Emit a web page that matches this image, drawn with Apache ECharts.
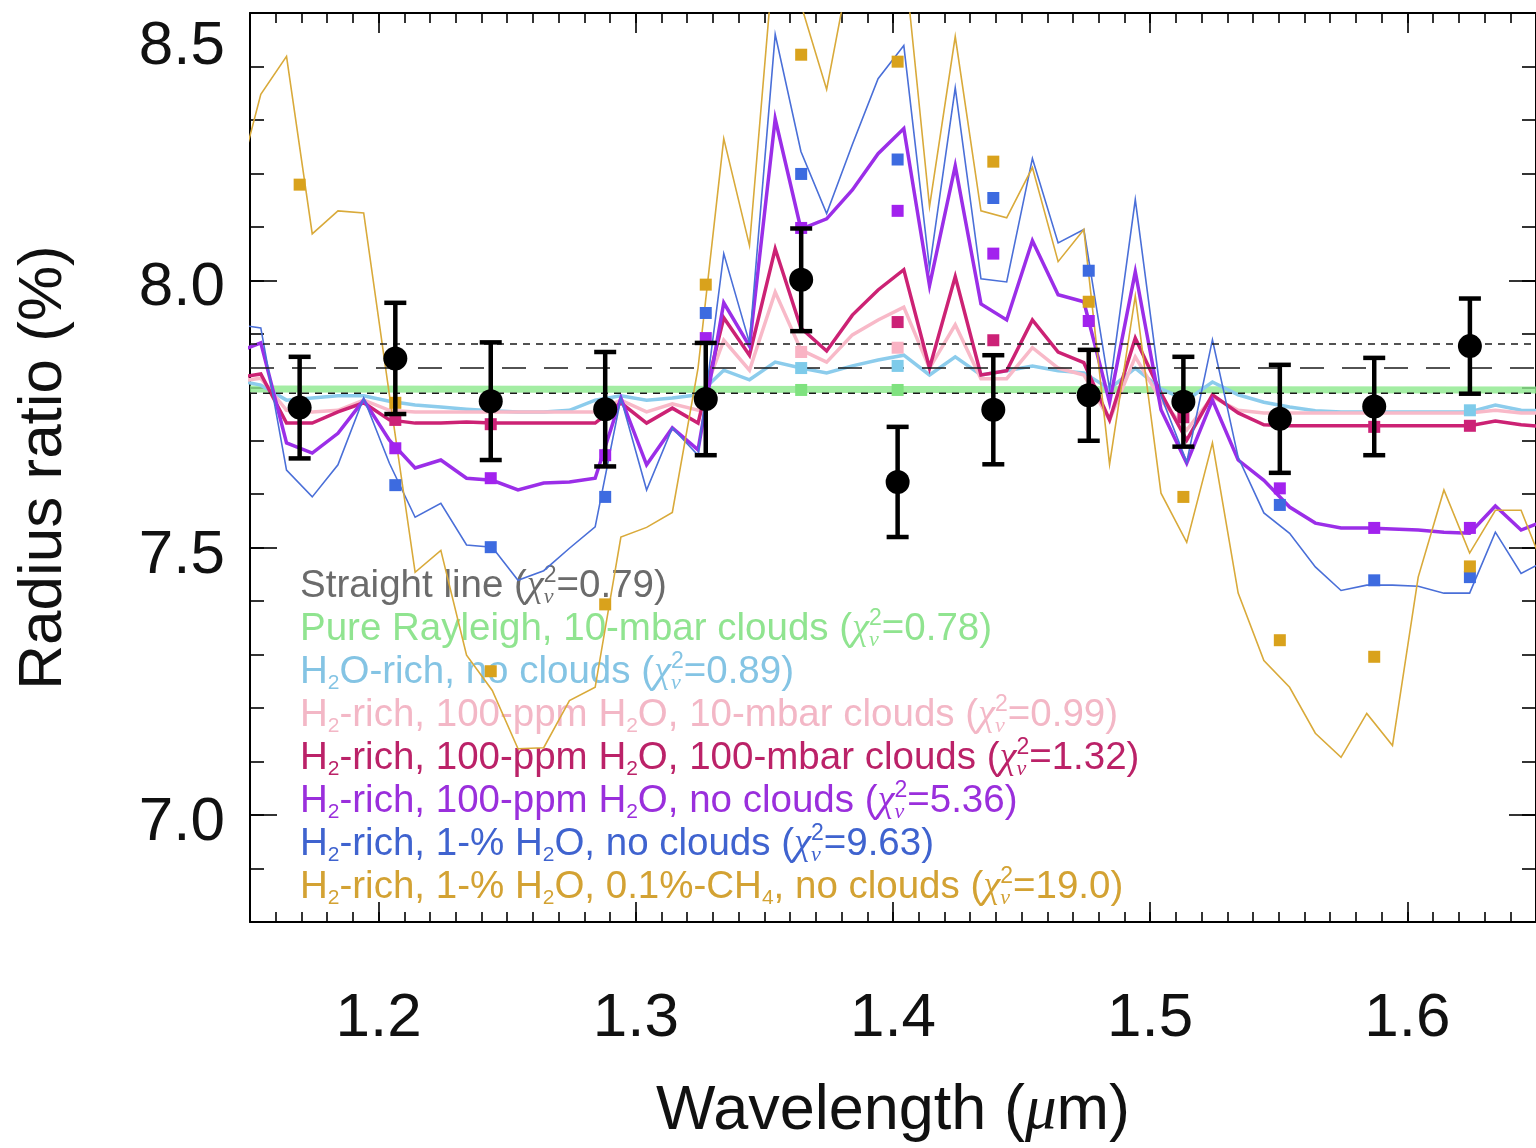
<!DOCTYPE html>
<html>
<head>
<meta charset="utf-8">
<script src="https://cdn.jsdelivr.net/npm/echarts@6/dist/echarts.min.js"></script>
<style>
  html, body { margin: 0; padding: 0; background: #ffffff; }
  #chart { width: 1536px; height: 1148px; }
</style>
</head>
<body>
<div id="chart"></div>
<script>
// ---------------------------------------------------------------------------
// Transmission spectrum: measured radius ratios and model spectra
// ---------------------------------------------------------------------------

// Tick labels
const X_TICKS = [1.2, 1.3, 1.4, 1.5, 1.6];
const Y_TICKS = [7.0, 7.5, 8.0, 8.5];

// Measured spectrum (wavelength in micron, radius ratio in %, 1-sigma error)
const DATA_WL  = [1.1693, 1.2065, 1.2436, 1.2881, 1.3272, 1.3643, 1.4018, 1.4390, 1.4761, 1.5129, 1.5504, 1.5871, 1.6243];
const DATA_R   = [7.762, 7.854, 7.774, 7.759, 7.778, 8.001, 7.623, 7.758, 7.785, 7.773, 7.741, 7.764, 7.877];
const DATA_ERR = [0.095, 0.104, 0.110, 0.107, 0.105, 0.096, 0.103, 0.102, 0.085, 0.084, 0.101, 0.091, 0.089];

// Straight-line fit and its 1-sigma band
const FIT_WL    = [1.15, 1.65];
const FIT_MEAN  = [7.836, 7.836];
const FIT_UPPER = [7.881, 7.881];
const FIT_LOWER = [7.789, 7.789];

// Model wavelength grid (micron)
const MODEL_WL = [1.1442, 1.1542, 1.1642, 1.1742, 1.1842, 1.1942, 1.2042, 1.2142, 1.2242, 1.2342,
                  1.2442, 1.2542, 1.2642, 1.2742, 1.2842, 1.2942, 1.3042, 1.3142, 1.3242, 1.3342,
                  1.3442, 1.3542, 1.3642, 1.3742, 1.3842, 1.3942, 1.4042, 1.4142, 1.4242, 1.4342,
                  1.4442, 1.4542, 1.4642, 1.4742, 1.4842, 1.4942, 1.5042, 1.5142, 1.5242, 1.5342,
                  1.5442, 1.5542, 1.5642, 1.5742, 1.5842, 1.5942, 1.6042, 1.6142, 1.6242, 1.6342,
                  1.6442, 1.6542];

// Pure Rayleigh, 10-mbar clouds (flat)
const RAYLEIGH_WL = [1.15, 1.65];
const RAYLEIGH    = [7.797, 7.795];

// H2O-rich, no clouds
const H2O_RICH = [7.814, 7.804, 7.776, 7.780, 7.784, 7.784, 7.774, 7.767, 7.763, 7.759,
                  7.756, 7.754, 7.754, 7.757, 7.776, 7.784, 7.776, 7.780, 7.786, 7.832,
                  7.814, 7.847, 7.836, 7.827, 7.840, 7.851, 7.860, 7.823, 7.857, 7.823,
                  7.831, 7.840, 7.831, 7.827, 7.797, 7.836, 7.797, 7.776, 7.810, 7.786,
                  7.772, 7.763, 7.756, 7.754, 7.754, 7.754, 7.754, 7.754, 7.754, 7.767,
                  7.757, 7.756];

// H2-rich, 100-ppm H2O, 10-mbar clouds
const H2_100PPM_10MBAR = [7.810, 7.817, 7.757, 7.754, 7.757, 7.776, 7.757, 7.754, 7.754, 7.754,
                          7.754, 7.754, 7.754, 7.754, 7.754, 7.776, 7.754, 7.769, 7.757, 7.888,
                          7.832, 7.978, 7.870, 7.847, 7.898, 7.926, 7.950, 7.836, 7.917, 7.816,
                          7.816, 7.874, 7.836, 7.823, 7.739, 7.857, 7.776, 7.720, 7.782, 7.757,
                          7.752, 7.752, 7.752, 7.752, 7.752, 7.752, 7.752, 7.752, 7.752, 7.757,
                          7.752, 7.752];

// H2-rich, 100-ppm H2O, 100-mbar clouds
const H2_100PPM_100MBAR = [7.817, 7.825, 7.733, 7.733, 7.754, 7.771, 7.739, 7.733, 7.733, 7.735,
                           7.733, 7.733, 7.733, 7.733, 7.733, 7.771, 7.733, 7.761, 7.733, 7.930,
                           7.860, 8.059, 7.911, 7.868, 7.935, 7.982, 8.020, 7.836, 8.007, 7.823,
                           7.831, 7.926, 7.866, 7.846, 7.739, 7.892, 7.789, 7.701, 7.786, 7.752,
                           7.730, 7.728, 7.728, 7.728, 7.728, 7.728, 7.728, 7.728, 7.728, 7.737,
                           7.730, 7.726];

// H2-rich, 100-ppm H2O, no clouds
const H2_100PPM_CLEAR = [7.864, 7.883, 7.696, 7.677, 7.714, 7.776, 7.701, 7.649, 7.664, 7.630,
                         7.626, 7.608, 7.621, 7.623, 7.630, 7.780, 7.655, 7.724, 7.683, 7.958,
                         7.877, 8.302, 8.096, 8.115, 8.169, 8.237, 8.284, 7.990, 8.214, 7.956,
                         7.926, 8.074, 7.973, 7.960, 7.772, 8.016, 7.758, 7.658, 7.776, 7.664,
                         7.626, 7.576, 7.546, 7.537, 7.537, 7.535, 7.533, 7.529, 7.527, 7.578,
                         7.533, 7.552];

// H2-rich, 1-% H2O, no clouds
const H2_1PCT_CLEAR = [7.918, 7.911, 7.645, 7.595, 7.655, 7.780, 7.658, 7.557, 7.583, 7.505,
                       7.501, 7.439, 7.457, 7.499, 7.539, 7.780, 7.608, 7.724, 7.673, 8.050,
                       7.883, 8.460, 8.241, 8.125, 8.254, 8.377, 8.439, 8.023, 8.360, 8.003,
                       7.997, 8.228, 8.070, 8.095, 7.797, 8.151, 7.784, 7.660, 7.889, 7.669,
                       7.565, 7.527, 7.464, 7.420, 7.430, 7.430, 7.428, 7.415, 7.415, 7.529,
                       7.452, 7.477];

// H2-rich, 1-% H2O, 0.1%-CH4, no clouds
const H2_1PCT_CH4 = [8.163, 8.348, 8.419, 8.087, 8.130, 8.126, 7.786, 7.454, 7.495, 7.299,
                     7.233, 7.124, 7.126, 7.214, 7.239, 7.520, 7.538, 7.566, 7.836, 8.265,
                     8.065, 8.636, 8.516, 8.357, 8.610, 8.675, 8.613, 8.138, 8.456, 8.130,
                     8.117, 8.211, 8.035, 8.095, 7.656, 7.971, 7.602, 7.510, 7.696, 7.415,
                     7.289, 7.239, 7.153, 7.108, 7.190, 7.130, 7.445, 7.608, 7.490, 7.570,
                     7.570, 7.449];

// Models binned to the measured channels (null: hidden behind a data point)
const BIN_RAYLEIGH  = [null, null, null, null, null, 7.795, 7.795, null, null, null, null, null, null];
const BIN_H2O_RICH  = [null, null, null, null, null, 7.836, 7.840, null, null, null, null, null, 7.757];
const BIN_10MBAR    = [null, null, null, null, null, 7.866, 7.874, null, null, null, null, null, null];
const BIN_100MBAR   = [null, 7.739, 7.731, null, null, null, 7.922, 7.888, null, 7.744, null, 7.726, 7.728];
const BIN_100PPM    = [null, 7.686, 7.630, 7.673, 7.892, 8.098, 8.130, 8.050, 7.924, null, 7.611, 7.537, 7.537];
const BIN_1PCT      = [null, 7.617, 7.501, 7.595, 7.939, 8.199, 8.226, 8.154, 8.018, null, 7.580, 7.439, 7.445];
const BIN_1PCT_CH4  = [8.179, 7.771, 7.269, 7.394, 7.992, 8.422, 8.409, 8.222, 7.960, 7.595, 7.327, 7.296, 7.465];

// ---------------------------------------------------------------------------
const FONT = "'Liberation Sans', Arial, Helvetica, sans-serif";
const SERIF = "'Liberation Serif', 'DejaVu Serif', serif";
const X_MIN = 1.15, X_MAX = 1.65;
const Y_MIN = 6.8, Y_MAX = 8.5;

const zip = (xs, ys) => xs.map((x, i) => [x, ys[i]]);
const binned = ys => DATA_WL.map((x, i) => [x, ys[i]]).filter(p => p[1] != null);

const AXIS_LINE = { show: true, lineStyle: { color: '#000', width: 2 } };
const TICK_STYLE = { color: '#000', width: 1.6 };

function minorXAxis(pos) {
  return {
    type: 'value', position: pos, min: X_MIN, max: X_MAX, interval: 0.01,
    axisLine: AXIS_LINE,
    axisTick: { show: true, inside: true, length: 10, lineStyle: TICK_STYLE },
    axisLabel: { show: false }, splitLine: { show: false }
  };
}
function majorXAxis(pos, withLabels) {
  const ax = {
    type: 'value', position: pos, min: X_MIN, max: X_MAX,
    axisLine: { show: false },
    axisTick: { show: true, inside: true, length: 20, customValues: X_TICKS, lineStyle: TICK_STYLE },
    axisLabel: { show: false }, splitLine: { show: false }
  };
  if (withLabels) {
    ax.axisLabel = {
      show: true, customValues: X_TICKS, margin: 66,
      formatter: v => v.toFixed(1),
      fontSize: 62, fontFamily: FONT, color: '#111'
    };
    ax.name = '{n|Wavelength (}{mu|\u03bc}{n|m)}';
    ax.nameLocation = 'middle';
    ax.nameGap = 158;
    ax.nameTextStyle = {
      fontSize: 63, fontFamily: FONT, color: '#111',
      rich: {
        n: { fontSize: 63, fontFamily: FONT, color: '#111' },
        mu: { fontSize: 63, fontFamily: SERIF, fontStyle: 'italic', color: '#111' }
      }
    };
  }
  return ax;
}
function minorYAxis(pos) {
  return {
    type: 'value', position: pos, min: Y_MIN, max: Y_MAX, interval: 0.1,
    axisLine: AXIS_LINE,
    axisTick: { show: true, inside: true, length: 14, lineStyle: TICK_STYLE },
    axisLabel: { show: false }, splitLine: { show: false }
  };
}
function majorYAxis(pos, withLabels) {
  const ax = {
    type: 'value', position: pos, min: Y_MIN, max: Y_MAX,
    axisLine: { show: false },
    axisTick: { show: true, inside: true, length: 27, customValues: Y_TICKS, lineStyle: TICK_STYLE },
    axisLabel: { show: false }, splitLine: { show: false }
  };
  if (withLabels) {
    const lab = { fontSize: 62, fontFamily: FONT, color: '#111' };
    ax.axisLabel = {
      show: true, customValues: Y_TICKS, margin: 25,
      formatter: v => (Math.abs(v - 8.5) < 1e-6 ? '{hi|' : '{lo|') + v.toFixed(1) + '}',
      rich: {
        lo: Object.assign({ padding: [16, 0, 0, 0] }, lab),
        hi: Object.assign({ padding: [68, 0, 0, 0] }, lab)
      }
    };
    ax.name = 'Radius ratio (%)';
    ax.nameLocation = 'middle';
    ax.nameRotate = 90;
    ax.nameGap = 175;
    ax.nameTextStyle = { fontSize: 62, fontFamily: FONT, color: '#111' };
  }
  return ax;
}

function modelLine(name, ys, color, width) {
  return {
    name, type: 'line', data: zip(MODEL_WL, ys), symbol: 'none', z: 3,
    lineStyle: { color, width, join: 'miter' }, silent: true
  };
}
function fitLine(ys, dash) {
  return {
    type: 'line', data: zip(FIT_WL, ys), symbol: 'none', z: 4, silent: true,
    lineStyle: { color: '#1a1a1a', width: 1.6, type: dash }
  };
}
function binSquares(ys, color) {
  return {
    type: 'scatter', data: binned(ys), symbol: 'rect', symbolSize: 12, z: 5,
    itemStyle: { color, opacity: 1 }, silent: true
  };
}

// Legend text with sub/superscripts
const t = s => '{t|' + s + '}';
const sb = s => '{sb|' + s + '}';
const chi = v => '{t|(}{chi|\u03c7}{nu|\u03bd}{sq|2}{t|=' + v + ')}';
const H2 = t('H') + sb('2');
const LEGEND_ROWS = [
  { color: '#6b6b6b', text: t('Straight line ') + chi('0.79') },
  { color: '#90e490', text: t('Pure Rayleigh, 10-mbar clouds ') + chi('0.78') },
  { color: '#84c4e4', text: t('H') + sb('2') + t('O-rich, no clouds ') + chi('0.89') },
  { color: '#f3b7c6', text: H2 + t('-rich, 100-ppm H') + sb('2') + t('O, 10-mbar clouds ') + chi('0.99') },
  { color: '#bb2268', text: H2 + t('-rich, 100-ppm H') + sb('2') + t('O, 100-mbar clouds ') + chi('1.32') },
  { color: '#9a2fdc', text: H2 + t('-rich, 100-ppm H') + sb('2') + t('O, no clouds ') + chi('5.36') },
  { color: '#3f63cf', text: H2 + t('-rich, 1-% H') + sb('2') + t('O, no clouds ') + chi('9.63') },
  { color: '#d3a233', text: H2 + t('-rich, 1-% H') + sb('2') + t('O, 0.1%-CH') + sb('4') + t(', no clouds ') + chi('19.0') }
];
const LEGEND_RICH = {
  t:   { fontSize: 38.5, fontFamily: FONT, lineHeight: 44 },
  chi: { fontSize: 38.5, fontFamily: SERIF, fontStyle: 'italic', lineHeight: 44 },
  nu:  { fontSize: 22, fontFamily: SERIF, fontStyle: 'italic', lineHeight: 8, verticalAlign: 'bottom', width: 0 },
  sq:  { fontSize: 23, fontFamily: FONT, lineHeight: 18, verticalAlign: 'top' },
  sb:  { fontSize: 21, fontFamily: FONT, lineHeight: 16, verticalAlign: 'bottom' }
};
const legendGraphics = LEGEND_ROWS.map((row, i) => ({
  type: 'text', left: 300, top: 564 + i * 43, z: 0,
  style: { text: row.text, fill: row.color, rich: LEGEND_RICH, align: 'left', verticalAlign: 'top' }
}));

const chart = echarts.init(document.getElementById('chart'), null, { renderer: 'canvas' });
chart.setOption({
  backgroundColor: '#ffffff',
  animation: false,
  grid: { left: 250, right: -6, top: 13, bottom: 225, containLabel: false },
  xAxis: [minorXAxis('bottom'), majorXAxis('bottom', true), minorXAxis('top'), majorXAxis('top', false)],
  yAxis: [minorYAxis('left'), majorYAxis('left', true), minorYAxis('right'), majorYAxis('right', false)],
  graphic: legendGraphics,
  series: [
    {
      type: 'line', data: zip(RAYLEIGH_WL, RAYLEIGH), symbol: 'none', z: 3, silent: true,
      lineStyle: { color: 'rgba(140,232,140,0.8)', width: 7 }
    },
    modelLine('H2O-rich', H2O_RICH, '#8cccec', 3.5),
    modelLine('10-mbar', H2_100PPM_10MBAR, '#f8b9c8', 3.5),
    modelLine('100-mbar', H2_100PPM_100MBAR, '#cc2274', 3.5),
    modelLine('100-ppm clear', H2_100PPM_CLEAR, '#9b2ee8', 3.5),
    modelLine('1% clear', H2_1PCT_CLEAR, '#4a6fd8', 1.6),
    modelLine('1% CH4', H2_1PCT_CH4, '#d9aa3a', 1.6),
    fitLine(FIT_MEAN, [24, 18]),
    fitLine(FIT_UPPER, [7, 6]),
    fitLine(FIT_LOWER, [7, 6]),
    binSquares(BIN_RAYLEIGH, '#7fe27f'),
    binSquares(BIN_H2O_RICH, '#7ecbea'),
    binSquares(BIN_10MBAR, '#f9b3c4'),
    binSquares(BIN_100MBAR, '#cc2277'),
    binSquares(BIN_100PPM, '#a222ee'),
    binSquares(BIN_1PCT, '#3d6be0'),
    binSquares(BIN_1PCT_CH4, '#d9a21c'),
    {
      type: 'custom', z: 8, silent: true,
      data: DATA_WL.map((w, i) => [w, DATA_R[i] - DATA_ERR[i], DATA_R[i] + DATA_ERR[i]]),
      encode: { x: 0, y: [1, 2] },
      renderItem: (params, api) => {
        const lo = api.coord([api.value(0), api.value(1)]);
        const hi = api.coord([api.value(0), api.value(2)]);
        const hw = 11;
        const st = { stroke: '#000', lineWidth: 4.5 };
        return {
          type: 'group', children: [
            { type: 'line', shape: { x1: hi[0], y1: hi[1], x2: lo[0], y2: lo[1] }, style: st },
            { type: 'line', shape: { x1: hi[0] - hw, y1: hi[1], x2: hi[0] + hw, y2: hi[1] }, style: st },
            { type: 'line', shape: { x1: lo[0] - hw, y1: lo[1], x2: lo[0] + hw, y2: lo[1] }, style: st }
          ]
        };
      }
    },
    {
      type: 'scatter', data: zip(DATA_WL, DATA_R), symbol: 'circle', symbolSize: 24, z: 9, silent: true,
      itemStyle: { color: '#000', opacity: 1 }
    }
  ]
});
</script>
</body>
</html>
